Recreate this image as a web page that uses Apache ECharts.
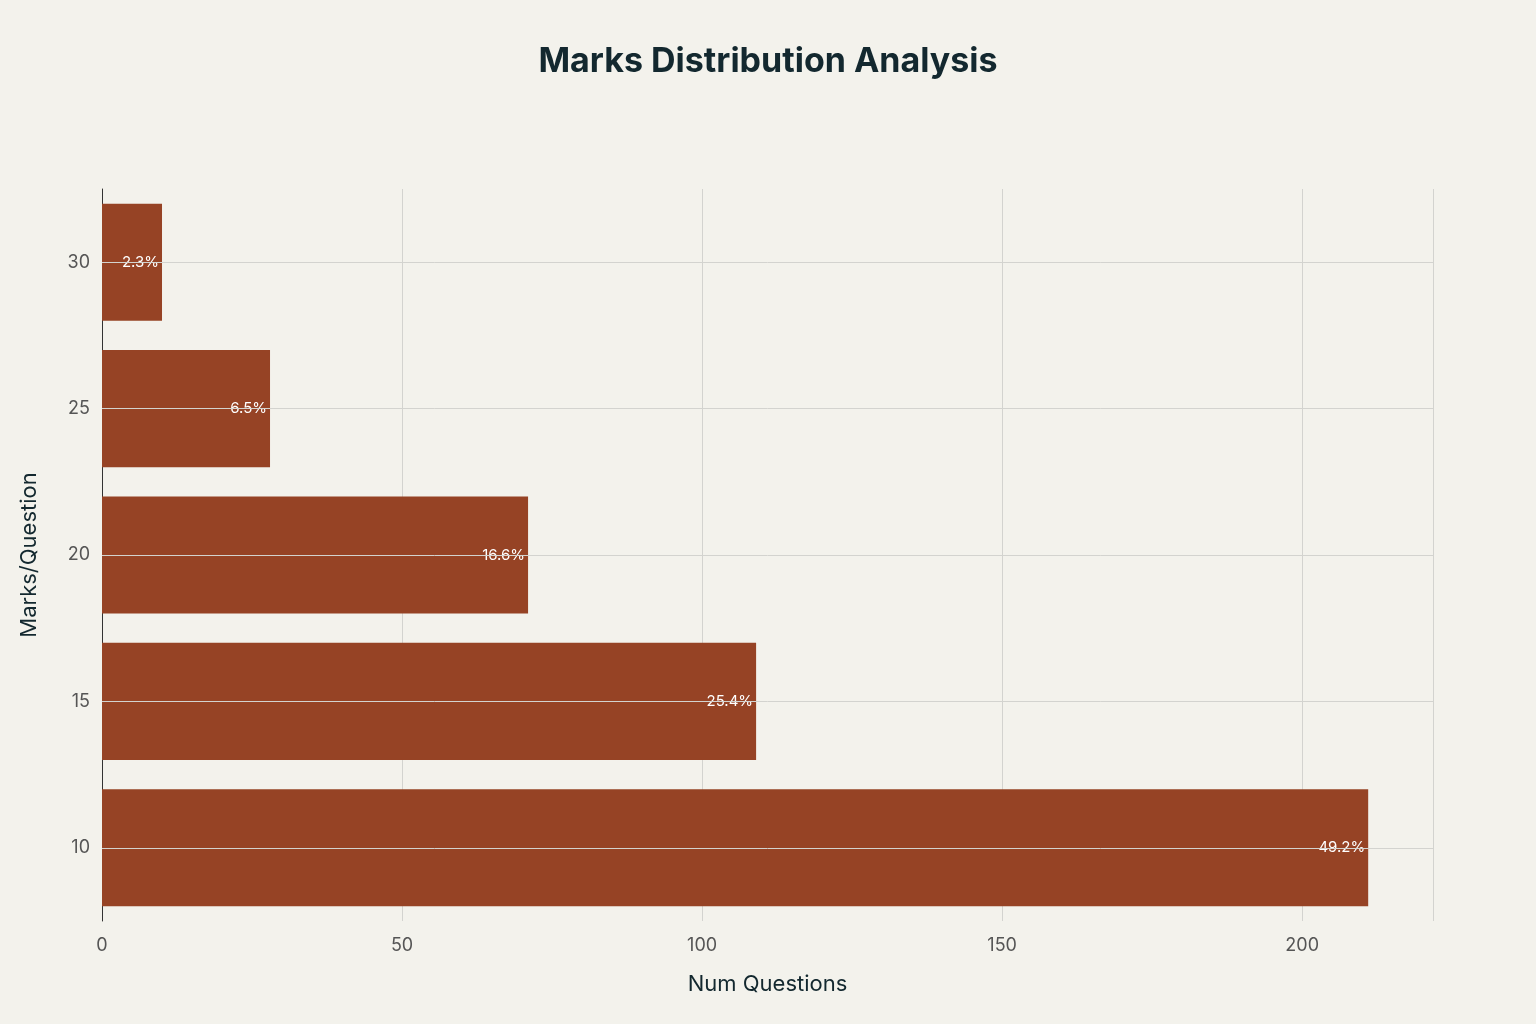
<!DOCTYPE html>
<html><head><meta charset="utf-8">
<script src="https://cdn.jsdelivr.net/npm/echarts@6/dist/echarts.min.js"></script>
<style>html,body{margin:0;background:#f3f2ec}#c{width:1536px;height:1024px}</style>
</head><body><div id="c"></div>
<script>
const categories = ['10','15','20','25','30'];
const counts = [211, 109, 71, 28, 10];
const percentLabels = ['49.2%','25.4%','16.6%','6.5%','2.3%'];
const xTicks = [0,50,100,150,200];

const chart = echarts.init(document.getElementById('c'));
chart.setOption({
  backgroundColor:'#f3f2ec',
  textStyle:{fontFamily:'Inter'},
  title:{text:'Marks Distribution Analysis',left:'center',top:40,
    textStyle:{fontSize:34,fontWeight:'bold',color:'#13282f',fontFamily:'Inter'}},
  grid:{left:102,right:103,top:189,bottom:103},
  xAxis:{type:'value',min:0,max:221.8,interval:50,
    name:'Num Questions',nameLocation:'middle',nameGap:52,
    nameTextStyle:{fontSize:22,color:'#13282f'},
    axisLabel:{fontSize:18,color:'#555',margin:16,formatter:v=>xTicks.includes(v)?String(v):''},
    splitLine:{lineStyle:{color:'#d3d3cf'}},axisLine:{show:false},axisTick:{show:false}},
  yAxis:{type:'category',data:categories,
    name:'Marks/Question',nameLocation:'middle',nameGap:62,
    nameTextStyle:{fontSize:22,color:'#13282f'},
    axisLabel:{fontSize:18,color:'#555',margin:12},
    axisLine:{show:true,lineStyle:{color:'#333'}},axisTick:{show:false},
    splitLine:{show:false}},
  series:[{type:'bar',data:counts,barCategoryGap:'20%',
    itemStyle:{color:'#964325'},
    label:{show:true,position:'insideRight',color:'#fff',fontSize:15,offset:[2,0],
      formatter:p=>percentLabels[p.dataIndex]}},
    {type:'line',data:[],markLine:{silent:true,symbol:'none',label:{show:false},
      lineStyle:{color:'#d3d3cf',type:'solid',width:1},
      data:categories.map(c=>({yAxis:c}))}, z:0}]
});
</script></body></html>
